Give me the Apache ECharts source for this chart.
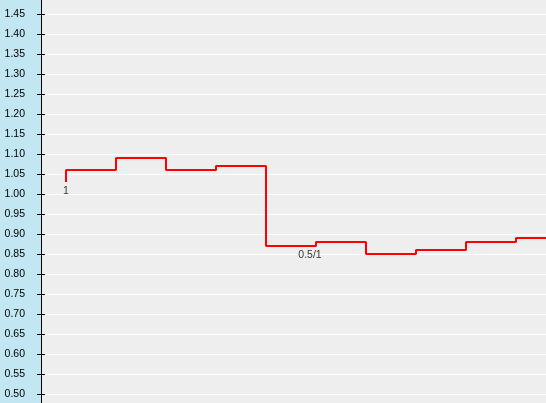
<!DOCTYPE html>
<html>
<head>
<meta charset="utf-8">
<script src="https://cdn.jsdelivr.net/npm/echarts@6/dist/echarts.min.js"></script>
<style>
html,body{margin:0;padding:0;background:#c2e6f2;overflow:hidden;width:546px;height:403px;}
#c{position:absolute;left:0;top:-6px;width:546px;height:430px;}
</style>
</head>
<body>
<div id="c"></div>
<script>
// data
var stepIndex = [0, 1, 2, 3, 4, 5, 6, 7, 8, 9, 10];
var stepValues = [1.03, 1.06, 1.09, 1.06, 1.07, 0.87, 0.88, 0.85, 0.86, 0.88, 0.89];
var noteIndex = [0, 5];
var noteValues = [1.03, 0.87];
var noteTexts = ['1', '0.5/1'];
var yMin = 0.45, yMax = 1.5, yStep = 0.05;

var lineData = stepIndex.map(function (x, i) { return [x, stepValues[i]]; });
var noteData = noteIndex.map(function (x, i) {
  var item = { value: [x, noteValues[i]], name: noteTexts[i] };
  if (i === 1) item.label = { offset: [-6, 0] };
  return item;
});

var chart = echarts.init(document.getElementById('c'), null, { renderer: 'canvas' });
var labelFont = 'Liberation Sans';
chart.setOption({
  backgroundColor: '#c2e6f2',
  animation: false,
  grid: {
    left: 41, right: 0, top: 0, height: 420,
    containLabel: false, outerBoundsMode: 'none',
    show: true, backgroundColor: '#eeeeee', borderWidth: 0
  },
  xAxis: {
    type: 'value', min: -0.5, max: 9.6,
    show: false, splitLine: { show: false }
  },
  yAxis: [{
    type: 'value', min: yMin, max: yMax, interval: yStep, position: 'left', offset: 0,
    axisLine: { show: true, onZero: false, lineStyle: { color: '#000', width: 1 } },
    axisTick: { show: true, inside: false, length: 4, lineStyle: { color: '#000', width: 1 } },
    axisLabel: {
      margin: 16, fontSize: 10.5, fontFamily: labelFont, color: '#000',
      formatter: function (v) { return v.toFixed(2); }
    },
    splitLine: { show: true, lineStyle: { color: '#ffffff', width: 1 } }
  }, {
    type: 'value', min: yMin, max: yMax, interval: yStep, position: 'left', offset: 0,
    axisLine: { show: false, onZero: false },
    axisTick: { show: true, inside: true, length: 4, lineStyle: { color: '#000', width: 1 } },
    axisLabel: { show: false },
    splitLine: { show: false }
  }],
  series: [{
    type: 'line',
    step: 'start',
    data: lineData,
    showSymbol: false,
    symbol: 'none',
    clip: true,
    lineStyle: { color: '#ff0000', width: 2 },
    z: 3
  }, {
    type: 'scatter',
    data: noteData,
    symbol: 'circle',
    symbolSize: 1,
    itemStyle: { color: 'rgba(0,0,0,0)' },
    label: {
      show: true, position: 'bottom', distance: 3,
      fontSize: 10.5, fontFamily: labelFont, color: '#000',
      formatter: function (p) { return p.name; }
    },
    z: 4
  }]
});
</script>
</body>
</html>
